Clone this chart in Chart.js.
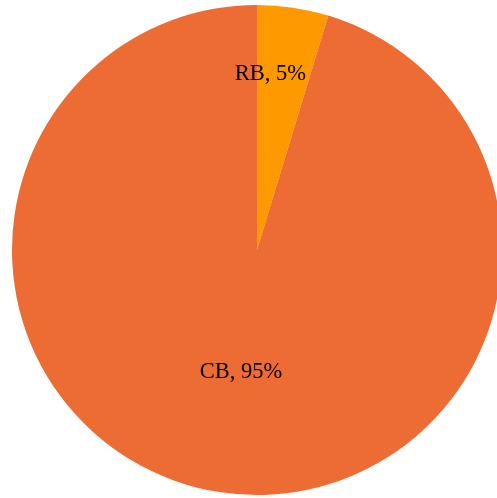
<!DOCTYPE html>
<html>
<head>
<meta charset="utf-8">
<script src="https://cdn.jsdelivr.net/npm/chart.js@4"></script>
<style>
  html, body { margin: 0; padding: 0; background: #fff; overflow: hidden; }
  #wrap { position: relative; width: 514px; height: 500px; }
</style>
</head>
<body>
<div id="wrap"><canvas id="pie"></canvas></div>
<script>
// --- data ---
const labels = ['RB', 'CB'];
const shares = [4.7, 95.3];
const colors = ['#FF9900', '#EC6C33'];

// label placement per slice: fraction of radius + small nudge
const labelPos = [
  { r: 0.73, dx: -13, dy: 1 },
  { r: 0.5, dx: 2, dy: 1 },
];

const sliceLabels = {
  id: 'sliceLabels',
  afterDatasetsDraw(chart) {
    const { ctx } = chart;
    const meta = chart.getDatasetMeta(0);
    ctx.save();
    ctx.font = '22.5px "Liberation Serif", "Times New Roman", serif';
    ctx.fillStyle = '#000';
    ctx.textAlign = 'center';
    ctx.textBaseline = 'middle';
    meta.data.forEach((arc, i) => {
      const p = arc.getProps(['x', 'y', 'startAngle', 'endAngle', 'outerRadius'], true);
      const mid = (p.startAngle + p.endAngle) / 2;
      const pos = labelPos[i];
      const x = p.x + Math.cos(mid) * p.outerRadius * pos.r + pos.dx;
      const y = p.y + Math.sin(mid) * p.outerRadius * pos.r + pos.dy;
      ctx.fillText(`${labels[i]}, ${Math.round(shares[i])}%`, x, y);
    });
    ctx.restore();
  },
};

new Chart(document.getElementById('pie').getContext('2d'), {
  type: 'pie',
  data: {
    labels,
    datasets: [{
      data: shares,
      backgroundColor: colors,
      borderWidth: 0,
    }],
  },
  options: {
    responsive: true,
    maintainAspectRatio: false,
    animation: false,
    layout: { padding: { top: 5, bottom: 5, left: 12, right: 12 } },
    plugins: {
      legend: { display: false },
      tooltip: { enabled: false },
    },
  },
  plugins: [sliceLabels],
});
</script>
</body>
</html>
